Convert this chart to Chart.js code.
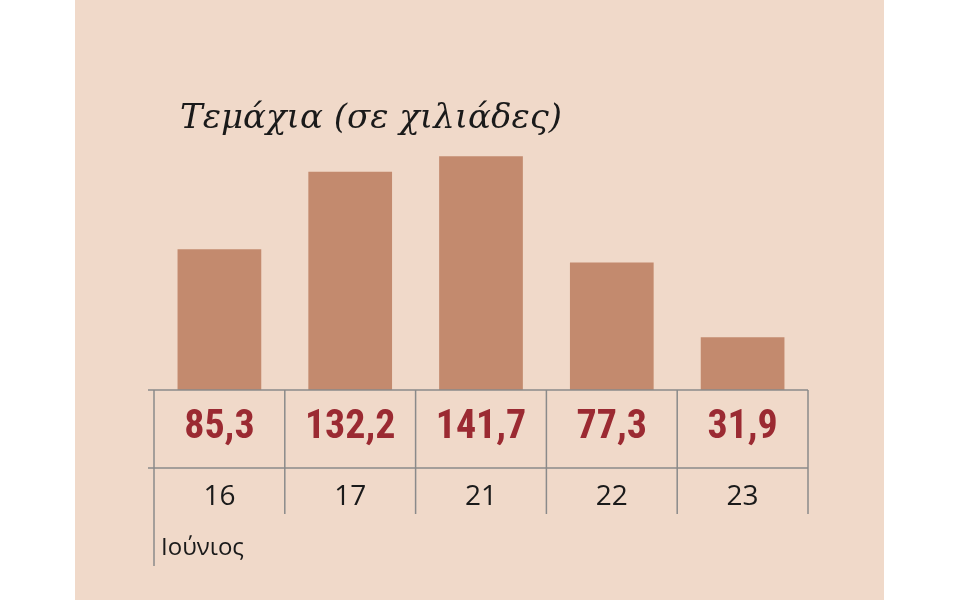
<!DOCTYPE html>
<html>
<head>
<meta charset="utf-8">
<script src="https://cdn.jsdelivr.net/npm/chart.js@4"></script>
<style>
  html, body { margin: 0; padding: 0; background: #fff; }
  #wrap { width: 960px; height: 600px; }
</style>
</head>
<body>
<div id="wrap"><canvas id="units-graph" width="960" height="600"></canvas></div>
<script>
const days = ['16', '17', '21', '22', '23'];
const units = [85.3, 132.2, 141.7, 77.3, 31.9];
const monthLabel = 'Ιούνιος';
const titleText = 'Τεμάχια (σε χιλιάδες)';

const decorate = {
    id: 'decorate',
    beforeDraw(chart) {
        const c = chart.ctx;
        c.save();
        c.fillStyle = '#ffffff';
        c.fillRect(0, 0, 960, 600);
        c.fillStyle = '#f0d9c9';
        c.fillRect(75, 0, 809, 600);
        c.fillStyle = '#1a1a1a';
        c.font = 'italic 34px "DejaVu Serif", "Liberation Serif", serif';
        c.textBaseline = 'alphabetic';
        c.fillText(titleText, 180, 128);
        c.restore();
    },
    afterDraw(chart) {
        const c = chart.ctx;
        const x = chart.scales.x;
        const area = chart.chartArea;
        const step = x.getPixelForValue(1) - x.getPixelForValue(0);
        const left = x.getPixelForValue(0) - step / 2;
        const right = x.getPixelForValue(days.length - 1) + step / 2;
        c.save();
        c.strokeStyle = '#8a8a8a';
        c.lineWidth = 1.5;
        c.beginPath();
        c.moveTo(left - 6, area.bottom); c.lineTo(right, area.bottom);
        c.moveTo(left - 6, 468); c.lineTo(right, 468);
        for (let i = 0; i <= days.length; i++) {
            const px = left + i * step;
            c.moveTo(px, area.bottom);
            c.lineTo(px, i === 0 ? 566 : 514);
        }
        c.stroke();
        c.textAlign = 'center';
        c.textBaseline = 'middle';
        units.forEach((v, i) => {
            const px = x.getPixelForValue(i);
            c.fillStyle = '#9b2a32';
            c.font = 'bold 40px "Liberation Sans Narrow", "Roboto Condensed", "Roboto", sans-serif';
            c.fillText(v.toFixed(1).replace('.', ','), px, 428);
            c.fillStyle = '#1a1a1a';
            c.font = '28px "Open Sans", "Noto Sans", sans-serif';
            c.fillText(days[i], px, 497);
        });
        c.textAlign = 'left';
        c.font = '24px "Open Sans", "Noto Sans", sans-serif';
        c.fillText(monthLabel, 161, 548);
        c.restore();
    }
};

new Chart(document.getElementById('units-graph').getContext('2d'), {
    type: 'bar',
    data: {
        labels: days,
        datasets: [{
            data: units,
            backgroundColor: '#c38a6e',
            barPercentage: 0.64,
            categoryPercentage: 1
        }]
    },
    options: {
        responsive: false,
        animation: false,
        layout: { padding: { left: 154, right: 152, top: 126, bottom: 210 } },
        scales: {
            x: { display: false },
            y: { display: false, min: 0, max: 160 }
        },
        plugins: {
            legend: { display: false },
            tooltip: { enabled: false }
        }
    },
    plugins: [decorate]
});
</script>
</body>
</html>
